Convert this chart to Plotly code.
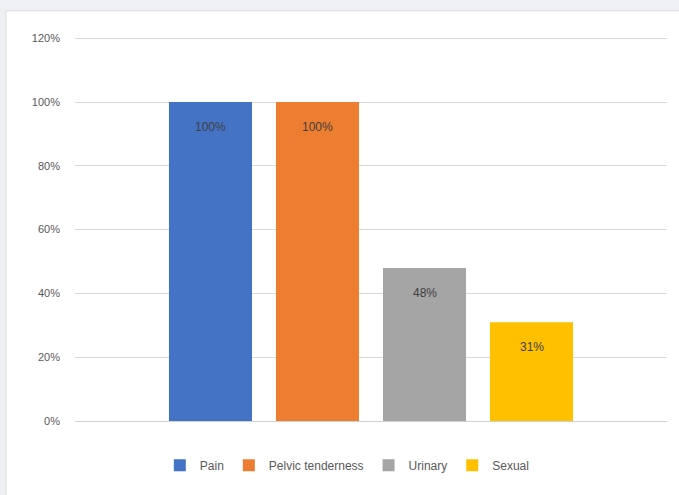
import plotly.graph_objects as go

categories = ["Pain", "Pelvic tenderness", "Urinary", "Sexual"]
values = [100, 100, 48, 31]
colors = ["#4472C4", "#ED7D31", "#A5A5A5", "#FFC000"]
y_ticks = [0, 20, 40, 60, 80, 100, 120]

fig = go.Figure()
for i, (name, v, c) in enumerate(zip(categories, values, colors)):
    fig.add_trace(go.Bar(x=[i], y=[v], name=name, marker=dict(color=c, line=dict(width=0)),
                         width=0.776, showlegend=True))
    fig.add_annotation(x=i, y=v, text=f"{v}%", showarrow=False, yshift=-25,
                       font=dict(family="Liberation Sans", size=12, color="#404040"))

# white chart card on gray page
fig.add_shape(type="rect", xref="paper", yref="paper", x0=-0.1166, x1=1.05, y0=-0.25, y1=1.068,
              fillcolor="white", line=dict(color="#dcdcdc", width=1), layer="below")

fig.update_layout(
    width=679, height=495,
    margin=dict(l=75, r=12, t=37, b=74),
    paper_bgcolor="#eef0f3",
    plot_bgcolor="rgba(0,0,0,0)",
    barmode="overlay",
    font=dict(family="Liberation Sans", size=11, color="#595959"),
    xaxis=dict(range=[-1.266, 4.266], showticklabels=False, showgrid=False, zeroline=False,
               showline=False, fixedrange=True),
    yaxis=dict(range=[0, 120.4], tickvals=y_ticks, ticktext=[f"{t}%" for t in y_ticks],
               showgrid=True, gridcolor="#d9d9d9", gridwidth=1, zeroline=True,
               zerolinecolor="#d0d0d0", zerolinewidth=1, showline=False,
               ticklabelstandoff=14, tickfont=dict(size=11, color="#595959")),
    legend=dict(orientation="h", x=0.46, xanchor="center", y=-0.115, yanchor="middle",
                font=dict(size=12, color="#595959"), itemwidth=30, bgcolor="rgba(0,0,0,0)"),
    showlegend=True,
)

fig.write_html("out.html")
